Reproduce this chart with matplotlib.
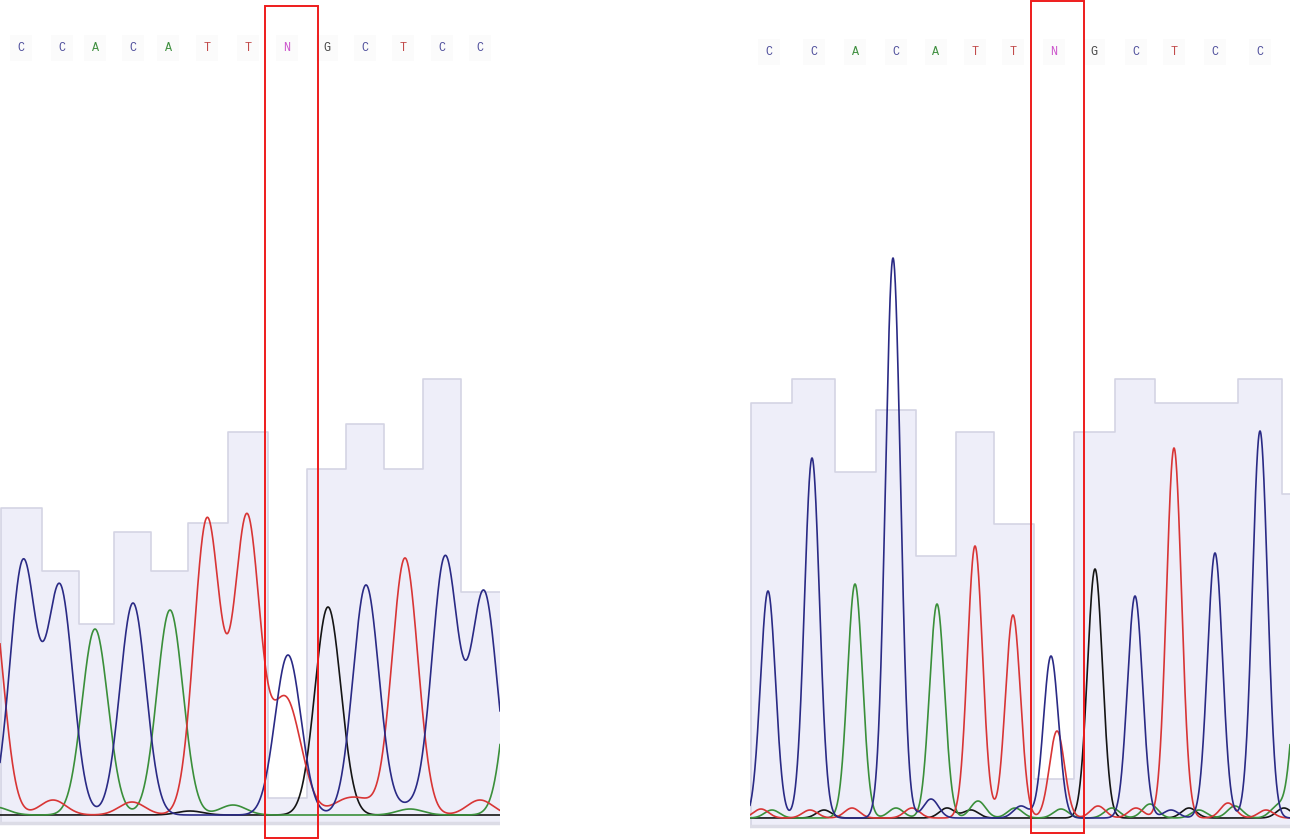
import numpy as np
import matplotlib.pyplot as plt
from matplotlib.patches import Rectangle

# ---- sample 1 (left trace) ----
left_bases = ['C', 'C', 'A', 'C', 'A', 'T', 'T', 'N', 'G', 'C', 'T', 'C', 'C']
left_base_pos = [21, 62, 95, 133, 168, 207, 248, 287, 327, 365, 403, 442, 480]
left_quality = [307, 244, 191, 283, 244, 292, 383, 17, 346, 391, 346, 436, 223]

left_C_pos = [23, 60, 133, 288, 366, 407, 445, 484]
left_C_h = [252, 227, 212, 160, 230, 8, 257, 222]
left_A_pos = [-5, 95, 170, 233, 410, 520]
left_A_h = [8, 186, 205, 10, 6, 230]
left_T_pos = [-10, 53, 132, 207, 247, 283, 298, 343, 363, 405, 480]
left_T_h = [230, 15, 13, 295, 297, 95, 35, 12, 12, 257, 15]
left_G_pos = [190, 328]
left_G_h = [4, 208]

# ---- sample 2 (right trace) ----
right_bases = ['C', 'C', 'A', 'C', 'A', 'T', 'T', 'N', 'G', 'C', 'T', 'C', 'C']
right_base_pos = [769, 814, 855, 896, 936, 975, 1013, 1054, 1094, 1136, 1174, 1215, 1260, 1304]
right_quality = [415, 439, 346, 408, 262, 386, 294, 39, 386, 439, 415, 415, 439, 324]

right_C_pos = [768, 812, 893, 931, 1021, 1051, 1135, 1171, 1215, 1260]
right_C_h = [227, 360, 560, 19, 12, 162, 222, 8, 265, 387]
right_A_pos = [772, 855, 896, 937, 978, 1015, 1061, 1112, 1150, 1199, 1235, 1278, 1300]
right_A_h = [8, 234, 10, 214, 17, 10, 9, 10, 14, 8, 12, 12, 170]
right_T_pos = [761, 810, 852, 912, 975, 1013, 1057, 1098, 1136, 1174, 1228, 1266]
right_T_h = [9, 8, 10, 10, 272, 203, 87, 12, 10, 370, 15, 8]
right_G_pos = [824, 947, 971, 1095, 1189, 1284]
right_G_h = [8, 10, 8, 249, 10, 10]

trace_colors = {'C': '#2a2a85', 'A': '#3a8f3a', 'T': '#d83535', 'G': '#151515'}
letter_colors = {'C': '#4f4f9c', 'A': '#3f8f3f', 'T': '#c24b4b', 'G': '#444444', 'N': '#cc55cc'}


def trace(x, pos, h, sigma):
    y = np.zeros_like(x)
    for p, a in zip(pos, h):
        y += a * np.exp(-(x - p) ** 2 / (2 * sigma ** 2))
    return y


def draw_panel(ax, xlim, base, bases, base_pos, quality, channels, sigma, letter_y, box):
    x0, x1 = xlim
    # quality bars behind the traces (step outline only)
    edges = [x0 + 1] + [(a + b) / 2 for a, b in zip(base_pos[:-1], base_pos[1:])] + [x1]
    edges = edges[:len(quality) + 1]
    bottom = -8
    xs, ys = [edges[0]], [bottom]
    for i, q in enumerate(quality):
        xs += [edges[i], edges[i + 1]]
        ys += [q, q]
    ax.fill_between(xs, bottom, ys, color='#eeeef9', zorder=1, lw=0)
    ax.plot(xs, ys, color='#d4d4e4', lw=1.2, zorder=1.5)
    ax.plot([x0, x1], [bottom, bottom], color='#dcdce6', lw=2.5, zorder=1.5)

    x = np.linspace(x0, x1, 3000)
    for key in ['G', 'A', 'T', 'C']:
        pos, h = channels[key]
        ax.plot(x, trace(x, pos, h, sigma), color=trace_colors[key], lw=1.2, zorder=3)

    for b, p in zip(bases, base_pos):
        ax.text(p, letter_y, b, color=letter_colors[b], fontsize=8.5,
                family=['Liberation Mono', 'DejaVu Sans Mono'],
                ha='center', va='center', zorder=4,
                bbox=dict(boxstyle='square,pad=0.6', fc='#fbfbfb', ec='none'))

    bx0, bx1, by0, by1 = box
    ax.add_patch(Rectangle((bx0, by0), bx1 - bx0, by1 - by0, fill=False,
                           ec='#ee1c1c', lw=1.4, zorder=5, clip_on=False))

    ax.set_xlim(x0, x1)
    ax.set_ylim(base - 840, base)
    ax.axis('off')


fig = plt.figure(figsize=(12.9, 8.4), dpi=100)
ax1 = fig.add_axes([0 / 1290, 0, 500 / 1290, 1])
ax2 = fig.add_axes([750 / 1290, 0, 540 / 1290, 1])

draw_panel(ax1, (0, 500), 815, left_bases, left_base_pos, left_quality,
           {'C': (left_C_pos, left_C_h), 'A': (left_A_pos, left_A_h),
            'T': (left_T_pos, left_T_h), 'G': (left_G_pos, left_G_h)},
           13, 767, (265, 318, -23, 809))
draw_panel(ax2, (750, 1290), 818, right_bases, right_base_pos, right_quality,
           {'C': (right_C_pos, right_C_h), 'A': (right_A_pos, right_A_h),
            'T': (right_T_pos, right_T_h), 'G': (right_G_pos, right_G_h)},
           7.5, 766, (1031, 1084, -15, 817))

fig.savefig('out.png', dpi=100, facecolor='white')
